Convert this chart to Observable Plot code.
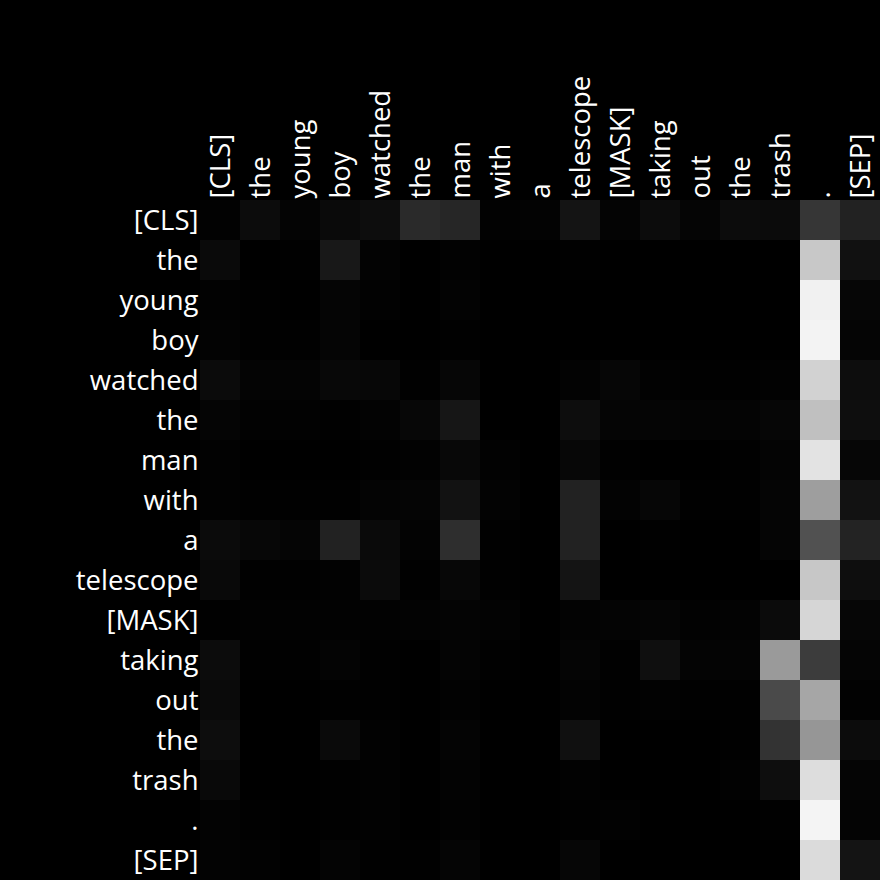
<!DOCTYPE html>
<html>
<head>
<meta charset="utf-8">
<script src="https://cdn.jsdelivr.net/npm/d3@7"></script>
<script src="https://cdn.jsdelivr.net/npm/@observablehq/plot@0.6"></script>
<style>
  html, body { margin: 0; padding: 0; background: #000; }
  #chart { width: 880px; height: 880px; }
</style>
</head>
<body>
<div id="chart"></div>
<script>
const tokens = ["[CLS]", "the", "young", "boy", "watched", "the", "man", "with", "a", "telescope", "[MASK]", "taking", "out", "the", "trash", ".", "[SEP]"];

// attention weights: rows = query token, columns = key token
const attention = [
  [0.006, 0.047, 0.016, 0.039, 0.051, 0.165, 0.149, 0.008, 0.012, 0.078, 0.016, 0.047, 0.020, 0.047, 0.043, 0.212, 0.133],
  [0.039, 0.000, 0.004, 0.094, 0.012, 0.000, 0.008, 0.000, 0.000, 0.004, 0.000, 0.000, 0.000, 0.000, 0.000, 0.784, 0.067],
  [0.008, 0.004, 0.000, 0.020, 0.008, 0.000, 0.012, 0.000, 0.000, 0.000, 0.000, 0.000, 0.000, 0.000, 0.000, 0.945, 0.024],
  [0.012, 0.004, 0.004, 0.020, 0.000, 0.000, 0.004, 0.000, 0.000, 0.000, 0.000, 0.000, 0.000, 0.000, 0.000, 0.953, 0.020],
  [0.043, 0.016, 0.016, 0.031, 0.027, 0.004, 0.024, 0.000, 0.000, 0.012, 0.024, 0.008, 0.004, 0.004, 0.008, 0.824, 0.051],
  [0.020, 0.008, 0.008, 0.004, 0.012, 0.027, 0.086, 0.000, 0.000, 0.051, 0.020, 0.020, 0.016, 0.016, 0.024, 0.753, 0.055],
  [0.008, 0.000, 0.000, 0.000, 0.004, 0.008, 0.031, 0.008, 0.000, 0.027, 0.004, 0.000, 0.000, 0.004, 0.016, 0.890, 0.024],
  [0.008, 0.004, 0.004, 0.004, 0.016, 0.020, 0.071, 0.012, 0.000, 0.133, 0.012, 0.024, 0.004, 0.004, 0.020, 0.620, 0.071],
  [0.043, 0.027, 0.020, 0.133, 0.039, 0.012, 0.180, 0.004, 0.000, 0.133, 0.000, 0.004, 0.000, 0.000, 0.020, 0.318, 0.137],
  [0.035, 0.004, 0.004, 0.008, 0.043, 0.004, 0.027, 0.004, 0.000, 0.078, 0.000, 0.000, 0.000, 0.000, 0.000, 0.780, 0.055],
  [0.004, 0.008, 0.008, 0.008, 0.008, 0.012, 0.016, 0.012, 0.000, 0.012, 0.016, 0.020, 0.008, 0.012, 0.043, 0.839, 0.024],
  [0.047, 0.004, 0.004, 0.016, 0.004, 0.000, 0.016, 0.004, 0.000, 0.020, 0.004, 0.059, 0.016, 0.016, 0.604, 0.235, 0.020],
  [0.039, 0.000, 0.000, 0.004, 0.004, 0.000, 0.008, 0.000, 0.000, 0.012, 0.004, 0.008, 0.004, 0.004, 0.290, 0.651, 0.008],
  [0.051, 0.000, 0.000, 0.039, 0.008, 0.000, 0.016, 0.000, 0.000, 0.063, 0.000, 0.000, 0.000, 0.004, 0.200, 0.588, 0.047],
  [0.035, 0.000, 0.000, 0.004, 0.008, 0.000, 0.012, 0.000, 0.000, 0.008, 0.000, 0.000, 0.000, 0.008, 0.055, 0.867, 0.020],
  [0.012, 0.004, 0.000, 0.004, 0.008, 0.000, 0.008, 0.000, 0.000, 0.004, 0.008, 0.000, 0.000, 0.000, 0.004, 0.957, 0.016],
  [0.012, 0.008, 0.000, 0.016, 0.004, 0.004, 0.020, 0.000, 0.000, 0.024, 0.000, 0.000, 0.000, 0.000, 0.000, 0.859, 0.078]
];

const cells = [];
attention.forEach((row, r) => row.forEach((v, c) => cells.push({row: r, col: c, value: v})));

const idx = d3.range(tokens.length);

const chart = Plot.plot({
  width: 880,
  height: 880,
  marginLeft: 200,
  marginTop: 200,
  marginRight: 0,
  marginBottom: 0,
  style: {background: "#000", color: "#fff", fontFamily: "'Open Sans', sans-serif", fontSize: "27.5px"},
  x: {domain: idx, padding: 0, axis: null},
  y: {domain: idx, padding: 0, axis: null},
  color: {type: "linear", domain: [0, 1], interpolate: (t) => d3.rgb(255 * t, 255 * t, 255 * t).toString()},
  marks: [
    Plot.cell(cells, {x: "col", y: "row", fill: "value", inset: 0, shapeRendering: "crispEdges"}),
    Plot.axisX({anchor: "top", tickSize: 0, tickPadding: 2, tickRotate: -90, dx: 1, tickFormat: (i) => tokens[i], label: null, fill: "#fff", fontSize: 27.5}),
    Plot.axisY({anchor: "left", tickSize: 0, tickPadding: 2, dy: 1, tickFormat: (i) => tokens[i], label: null, fill: "#fff", fontSize: 27.5})
  ]
});

document.getElementById("chart").appendChild(chart);
</script>
</body>
</html>
